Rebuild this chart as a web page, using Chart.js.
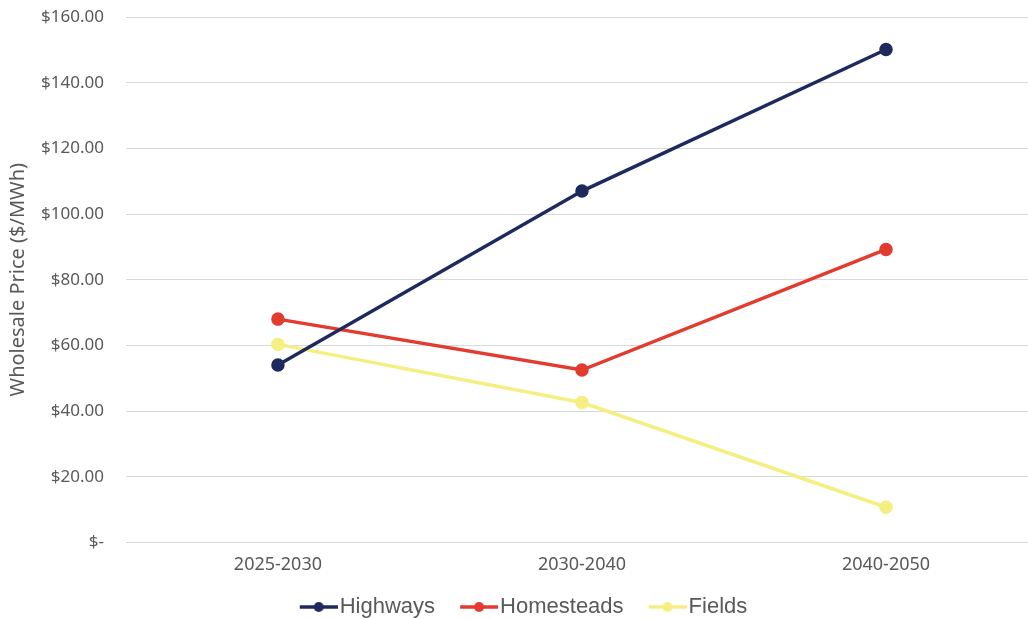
<!DOCTYPE html>
<html>
<head>
<meta charset="utf-8">
<script src="https://cdn.jsdelivr.net/npm/chart.js@4/dist/chart.umd.min.js"></script>
<style>
    body { margin: 0; background: #fff; }
    #wrap { width: 1028px; height: 619px; }
</style>
</head>
<body>
<div id="wrap"><canvas id="graph"></canvas></div>
<script>
const periods = ["2025-2030", "2030-2040", "2040-2050"]
const highways = [54.0, 107.0, 150.1]
const homesteads = [68.0, 52.5, 89.2]
const fields = [60.3, 42.6, 10.7]

const navy = "#1e2a5e"
const red = "#e33b2f"
const yellow = "#f5ef82"
const grey = "#595959"

// line-with-dot swatch for the legend; left part is left blank as spacing
function swatch(color) {
    const c = document.createElement("canvas")
    c.width = 64
    c.height = 12
    const ctx = c.getContext("2d")
    ctx.strokeStyle = color
    ctx.lineWidth = 3.5
    ctx.beginPath()
    ctx.moveTo(26, 6)
    ctx.lineTo(64, 6)
    ctx.stroke()
    ctx.fillStyle = color
    ctx.beginPath()
    ctx.arc(45, 6, 5, 0, Math.PI * 2)
    ctx.fill()
    return c
}

// periods sit on x = 0, 1, 2 of a linear axis
function series(label, values, color) {
    return {
        label: label,
        data: values.map((v, i) => ({ x: i, y: v })),
        borderColor: color,
        backgroundColor: color,
        borderWidth: 3.5,
        pointRadius: 5,
        pointHoverRadius: 5,
        pointStyle: "circle",
        tension: 0
    }
}

class Graph {
    constructor() {
        this.canvas = document.getElementById("graph").getContext("2d")
        const marks = [swatch(navy), swatch(red), swatch(yellow)]
        this.graph = new Chart(this.canvas, {
            type: "line",
            data: {
                datasets: [
                    series("Highways", highways, navy),
                    series("Homesteads", homesteads, red),
                    series("Fields", fields, yellow)
                ]
            },
            options: {
                responsive: true,
                maintainAspectRatio: false,
                animation: false,
                layout: { autoPadding: false, padding: { top: 17, right: 0, left: 2, bottom: -9 } },
                font: { family: "'Noto Sans', sans-serif" },
                scales: {
                    x: {
                        type: "linear",
                        min: -0.5,
                        // right half-slot is cut short by the canvas edge
                        max: 2.467,
                        grid: { display: false },
                        border: { display: false },
                        ticks: {
                            stepSize: 1,
                            color: grey,
                            padding: 4,
                            font: { size: 18 },
                            callback: v => periods[v]
                        },
                        afterBuildTicks: s => {
                            s.ticks = s.ticks.filter(t => Number.isInteger(t.value) && t.value >= 0 && t.value < periods.length)
                        },
                        afterFit: s => {
                            s.paddingLeft = 0
                            s.paddingRight = 0
                            s.height += 8
                        }
                    },
                    y: {
                        min: 0,
                        max: 160,
                        ticks: {
                            stepSize: 20,
                            color: grey,
                            padding: 22,
                            font: { size: 17 },
                            callback: v => v === 0 ? "$-" : "$" + v.toFixed(2)
                        },
                        grid: { color: "#d9d9d9", lineWidth: 1, drawTicks: false },
                        border: { display: false },
                        title: {
                            display: true,
                            text: "Wholesale Price ($/MWh)",
                            color: grey,
                            font: { size: 20 },
                            padding: { top: 4, bottom: 4 }
                        },
                        afterFit: s => {
                            s.paddingTop = 0
                            s.paddingBottom = 0
                            s.width -= 15
                        }
                    }
                },
                plugins: {
                    tooltip: { enabled: false },
                    legend: {
                        position: "bottom",
                        labels: {
                            color: grey,
                            font: { size: 22 },
                            usePointStyle: true,
                            pointStyleWidth: 46,
                            padding: 8,
                            generateLabels: chart => chart.data.datasets.map((ds, i) => ({
                                text: ds.label,
                                datasetIndex: i,
                                pointStyle: marks[i],
                                fontColor: grey,
                                lineWidth: 0,
                                hidden: false
                            }))
                        }
                    }
                }
            }
        })
    }
    getGraph() {
        return this.graph
    }
}

new Graph()
</script>
</body>
</html>
